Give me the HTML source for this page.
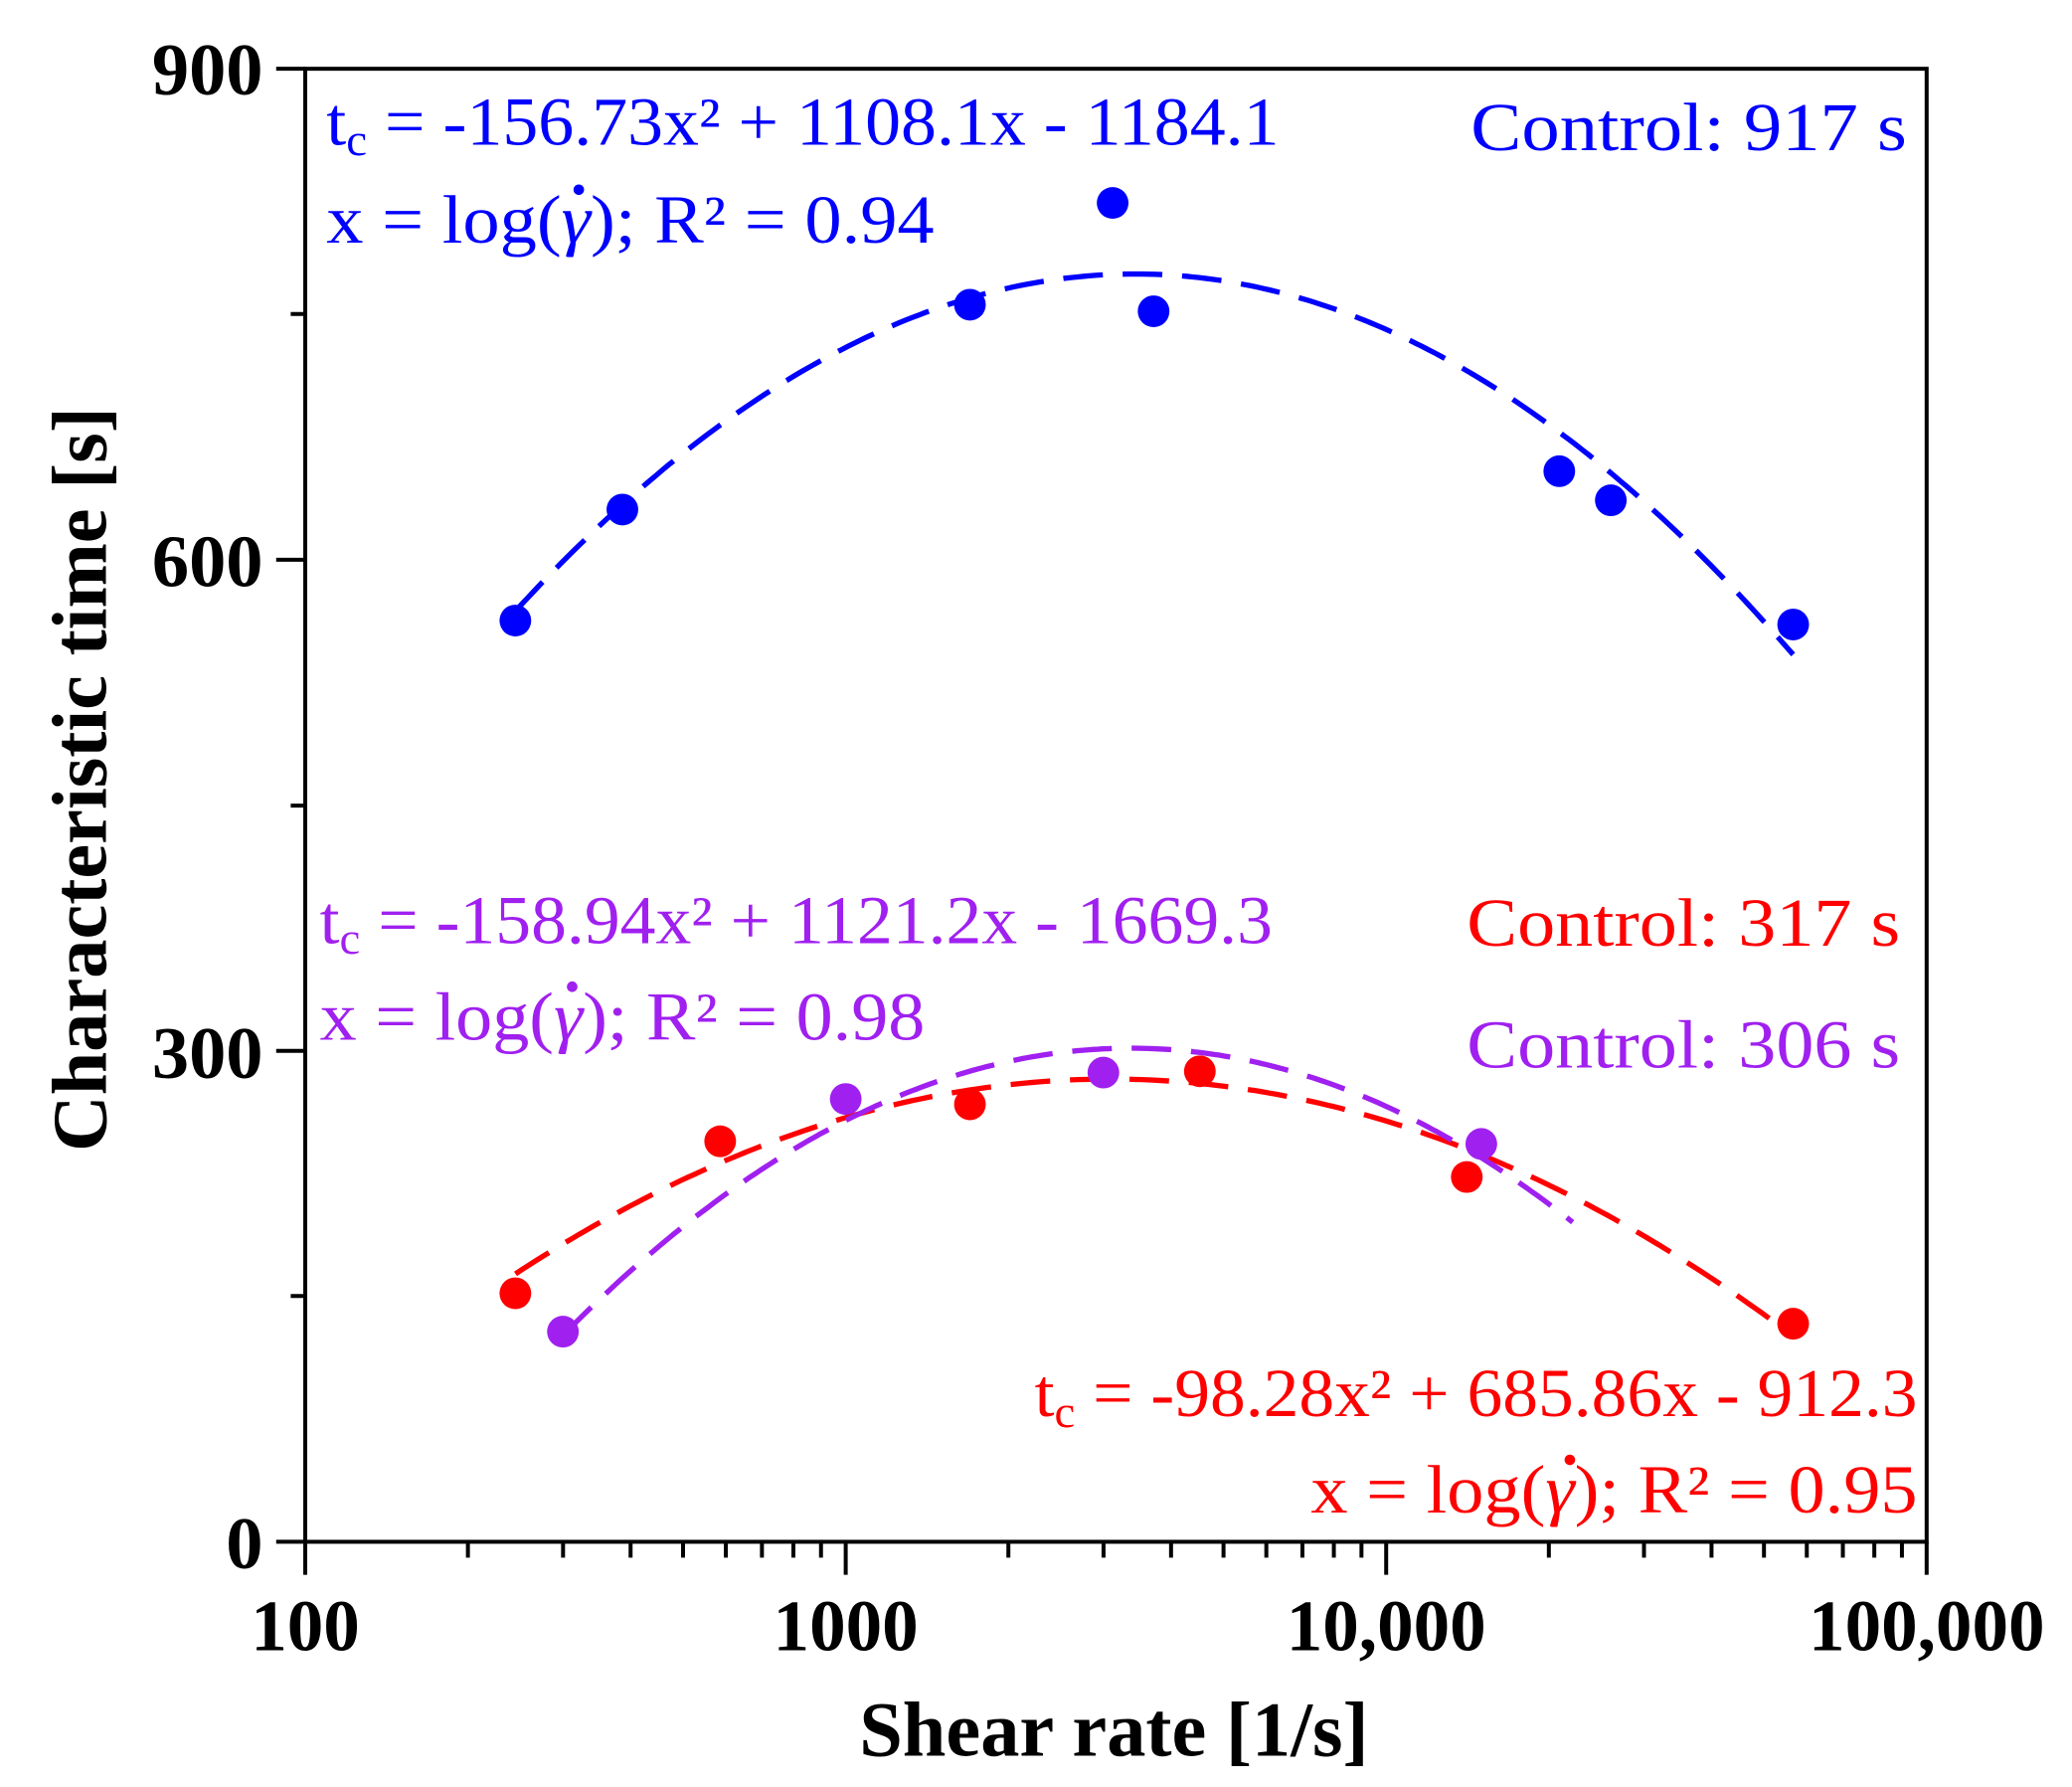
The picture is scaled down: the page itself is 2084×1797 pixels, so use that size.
<!DOCTYPE html>
<html><head><meta charset="utf-8"><style>html,body{margin:0;padding:0;background:#fff}svg{display:block}</style></head>
<body>
<svg id="s" width="2084" height="1797" viewBox="0 -1.5 1568 1352" xmlns="http://www.w3.org/2000/svg" font-family="'Liberation Serif', serif">
<g id="curves"></g>
<g stroke="#000" stroke-width="3" fill="none">
<rect x="231" y="50.5" width="1227" height="1114.5"/>
<path d="M209 50.5H231M209 422H231M209 793.6H231M209 1165H231M220 236H231M220 608H231M220 979H231"/>
<path id="xt" d=""/>
</g>
<g id="pts"></g>
<g font-weight="bold" font-size="56" text-anchor="end">
<text x="199" y="70">900</text><text x="199" y="442">600</text><text x="199" y="814">300</text><text x="199" y="1185">0</text>
</g>
<g font-weight="bold" font-size="55" text-anchor="middle">
<text x="231" y="1247">100</text><text x="640" y="1247">1000</text><text x="1049" y="1247">10,000</text><text x="1458" y="1247">100,000</text>
<text x="843" y="1327" font-size="59">Shear rate [1/s]</text>
<text transform="translate(80,588) rotate(-90)" font-size="59">Characteristic time [s]</text>
</g>
<g font-size="52">
<text x="247" y="108" fill="#0000ff" textLength="721" lengthAdjust="spacingAndGlyphs">t<tspan font-size="34" dy="8">c</tspan><tspan dy="-8"> = -156.73x² + 1108.1x - 1184.1</tspan></text>
<text x="247" y="182" fill="#0000ff" textLength="460" lengthAdjust="spacingAndGlyphs">x = log(<tspan font-style="italic">γ</tspan>); R² = 0.94</text>
<text x="1113" y="112" fill="#0000ff" textLength="330" lengthAdjust="spacingAndGlyphs">Control: 917 s</text>
<text x="242" y="712" fill="#a020f0" textLength="721" lengthAdjust="spacingAndGlyphs">t<tspan font-size="34" dy="8">c</tspan><tspan dy="-8"> = -158.94x² + 1121.2x - 1669.3</tspan></text>
<text x="242" y="785" fill="#a020f0" textLength="458" lengthAdjust="spacingAndGlyphs">x = log(<tspan font-style="italic">γ</tspan>); R² = 0.98</text>
<text x="1110" y="714" fill="#ff0000" textLength="328" lengthAdjust="spacingAndGlyphs">Control: 317 s</text>
<text x="1110" y="806" fill="#a020f0" textLength="328" lengthAdjust="spacingAndGlyphs">Control: 306 s</text>
<text x="783" y="1070" fill="#ff0000" textLength="668" lengthAdjust="spacingAndGlyphs">t<tspan font-size="34" dy="8">c</tspan><tspan dy="-8"> = -98.28x² + 685.86x - 912.3</tspan></text>
<text x="992" y="1143" fill="#ff0000" textLength="459" lengthAdjust="spacingAndGlyphs">x = log(<tspan font-style="italic">γ</tspan>); R² = 0.95</text>
</g>
<g fill="#0000ff"><circle cx="438" cy="142" r="4"/></g>
<g fill="#a020f0"><circle cx="433" cy="745" r="4"/></g>
<g fill="#ff0000"><circle cx="1188" cy="1103" r="4"/></g>
</svg>
<script>
var X=function(l){return 231+(l-2)*409},Y=function(t){return 1165-t*1.2385};
var xt='';for(var d=2;d<5;d++){for(var k=1;k<=10;k++){var l=d+Math.log10(k);var x=X(l);xt+='M'+x.toFixed(1)+' 1165V'+(k==1||k==10?1190:1177);}}
document.getElementById('xt').setAttribute('d',xt);
function curve(a,b,c,x0,x1,col,off){var p='';for(var i=0;i<=200;i++){var l=x0+(x1-x0)*i/200;var t=a*l*l+b*l+c;p+=(i?'L':'M')+X(l).toFixed(1)+' '+(Y(t)+off).toFixed(1);}
return '<path d="'+p+'" fill="none" stroke="'+col+'" stroke-width="4" stroke-dasharray="30 15"/>';}
var g='';
g+=curve(-156.73,1108.1,-1184.1,2.389,4.753,'#0000ff',0);
g+=curve(-98.28,685.86,-912.3,2.389,4.753,'#ff0000',2);
g+=curve(-158.94,1121.2,-1669.3,2.477,4.345,'#a020f0',8);
document.getElementById('curves').innerHTML=g;
var P=[['#0000ff',[[390,468],[471,384],[734,229],[842,152],[873,234],[1180,355],[1219,377],[1357,471]]],
['#ff0000',[[390,977],[545,862],[734,834],[908,809],[1110,889],[1357,1000]]],
['#a020f0',[[426,1006],[640,830],[835,810],[1121,864]]]];
var s='';P.forEach(function(q){q[1].forEach(function(p){s+='<circle cx="'+p[0]+'" cy="'+p[1]+'" r="12" fill="'+q[0]+'"/>';});});
document.getElementById('pts').innerHTML=s;
</script>
</body></html>
